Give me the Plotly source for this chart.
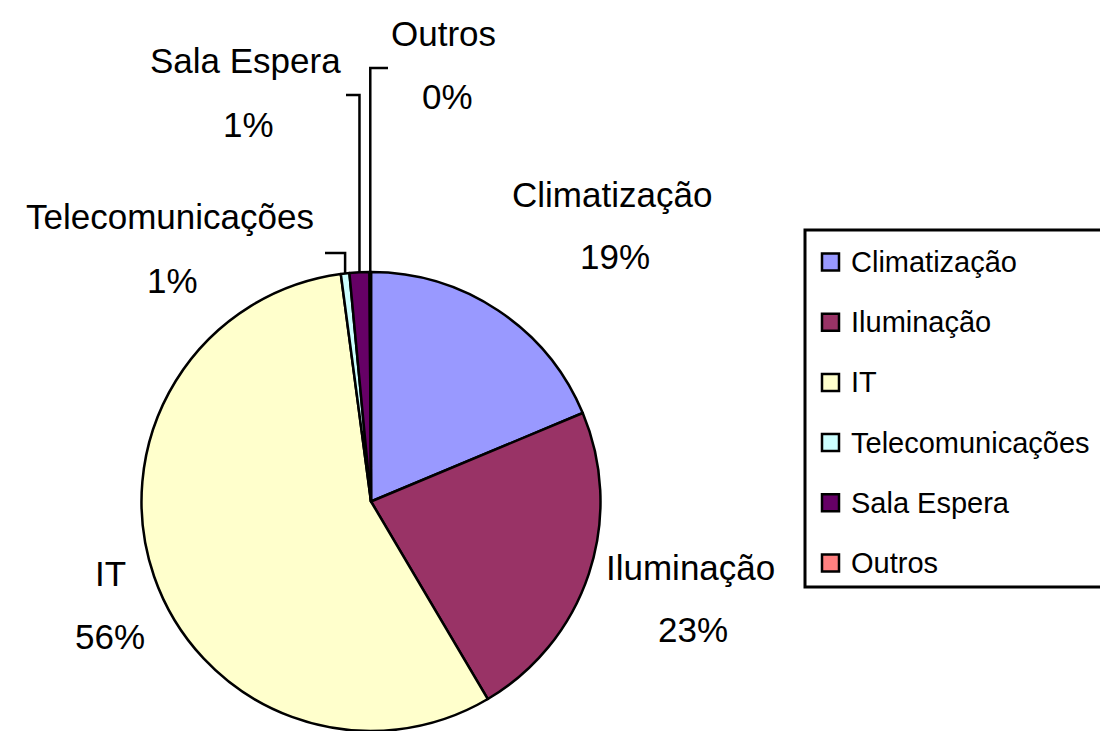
import math
import plotly.graph_objects as go

# ---- data ----
categories = ["Climatização", "Iluminação", "IT", "Telecomunicações", "Sala Espera", "Outros"]
values = [18.7, 22.8, 56.4, 0.6, 1.4, 0.1]
colors = ["#9999FF", "#993366", "#FFFFCC", "#CCFFFF", "#660066", "#FF8080"]

# ---- layout constants (pixels) ----
W, H = 1100, 731
pie_x = (140, 602)
pie_y_top = 272
FONT = "Liberation Sans, Arial, sans-serif"

# label placement (name centre, percent centre) in pixels
label_pos = {
    "Climatização": ((612, 194), (615, 256)),
    "Iluminação": ((690, 567), (693, 629)),
    "IT": ((110, 573), (110, 636)),
    "Telecomunicações": ((170, 217), (172, 281)),
    "Sala Espera": ((245, 61), (248, 124)),
    "Outros": ((443, 33), (447, 96)),
}
# leader lines: (elbow y, end x)
leaders = {
    "Telecomunicações": (253, 325),
    "Sala Espera": (95, 346),
    "Outros": (68, 388),
}


def px(x):
    return x / W


def py(y):
    return 1 - y / H


dom_x = [pie_x[0] / W, pie_x[1] / W]
dom_y = [0, 1 - pie_y_top / H]
cx = (pie_x[0] + pie_x[1]) / 2
r = min(pie_x[1] - pie_x[0], H - pie_y_top) / 2
cy = pie_y_top + (H - pie_y_top) / 2

fig = go.Figure()
fig.add_trace(go.Pie(
    labels=categories, values=values, sort=False, direction="clockwise", rotation=0,
    marker=dict(colors=colors, line=dict(color="black", width=2.5)),
    textinfo="none", hoverinfo="skip", showlegend=False,
    domain=dict(x=dom_x, y=dom_y),
))

annotations = []
shapes = []
total = sum(values)
cum = 0
for cat, v in zip(categories, values):
    mid = (cum + v / 2) / total * 2 * math.pi
    cum += v
    pct = f"{round(v / total * 100)}%"
    (nx, ny), (qx, qy) = label_pos[cat]
    annotations.append(dict(x=px(nx), y=py(ny), xref="paper", yref="paper", text=cat,
                            showarrow=False, xanchor="center", yanchor="middle",
                            font=dict(family=FONT, size=35, color="black")))
    annotations.append(dict(x=px(qx), y=py(qy), xref="paper", yref="paper", text=pct,
                            showarrow=False, xanchor="center", yanchor="middle",
                            font=dict(family=FONT, size=35, color="black")))
    if cat in leaders:
        ey, ex = leaders[cat]
        sx = cx + r * math.sin(mid)
        sy = cy - r * math.cos(mid)
        path = f"M {px(sx)} {py(sy)} L {px(sx)} {py(ey)} L {px(ex)} {py(ey)}"
        shapes.append(dict(type="path", xref="paper", yref="paper", path=path,
                           line=dict(color="black", width=2.5)))

# ---- manual legend ----
leg_left, leg_top, leg_bottom = 805, 230, 587
shapes.append(dict(type="rect", xref="paper", yref="paper",
                   x0=px(leg_left), x1=px(W + 5), y0=py(leg_top), y1=py(leg_bottom),
                   line=dict(color="black", width=3), fillcolor="rgba(0,0,0,0)"))
for i, (cat, col) in enumerate(zip(categories, colors)):
    yc = 262 + 60.2 * i
    shapes.append(dict(type="rect", xref="paper", yref="paper",
                       x0=px(822), x1=px(839), y0=py(yc - 8.5), y1=py(yc + 8.5),
                       line=dict(color="black", width=2.5), fillcolor=col))
    annotations.append(dict(x=px(849), y=py(yc), xref="paper", yref="paper", text=cat,
                            showarrow=False, xanchor="left", yanchor="middle",
                            font=dict(family=FONT, size=29, color="black")))

fig.update_layout(
    width=W, height=H, margin=dict(l=0, r=0, t=0, b=0),
    paper_bgcolor="white", plot_bgcolor="white",
    showlegend=False, annotations=annotations, shapes=shapes,
)
fig.write_html("out.html", config={"displayModeBar": False},
               post_script="document.body.style.margin='0';document.body.style.overflow='hidden';")
